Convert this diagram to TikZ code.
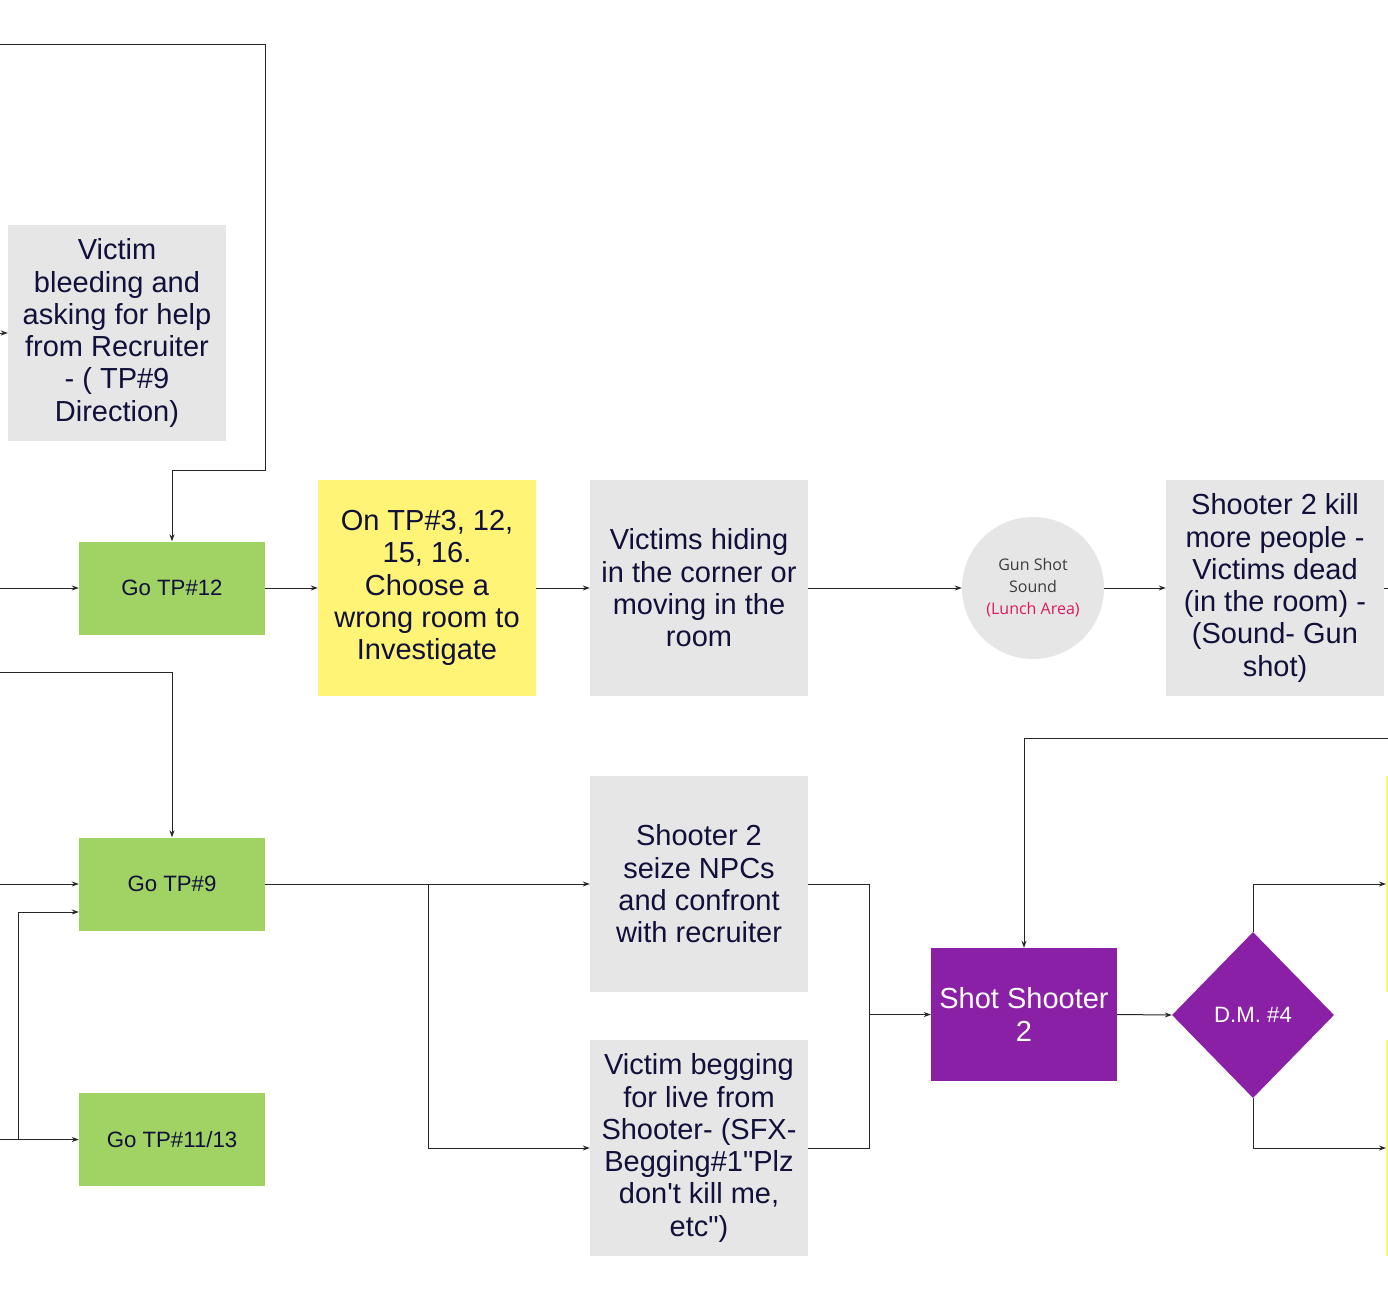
\documentclass[tikz,border=0pt]{standalone}
\usepackage{fontspec}
\setmainfont{Liberation Sans}
\newfontfamily\opensans{Open Sans}
\usetikzlibrary{arrows.meta,shapes.geometric}
\definecolor{boxgray}{HTML}{E6E6E6}
\definecolor{tpgreen}{HTML}{A1D264}
\definecolor{noteyellow}{HTML}{FFF475}
\definecolor{inkblue}{HTML}{10103A}
\definecolor{dmpurple}{HTML}{8A20A5}
\definecolor{lunchpink}{HTML}{D81B60}
\definecolor{soundgray}{HTML}{3C3C3C}
\tikzset{
  bigbox/.style={rectangle, fill=boxgray, minimum width=218pt, minimum height=216pt,
    inner sep=0pt, text=inkblue, align=center, font=\fontsize{29}{32.3}\selectfont},
  notebox/.style={bigbox, fill=noteyellow},
  tpbox/.style={rectangle, fill=tpgreen, minimum width=186pt, minimum height=93pt,
    inner sep=0pt, text=inkblue, align=center, font=\fontsize{22.2}{25}\selectfont},
  shotbox/.style={rectangle, fill=dmpurple, minimum width=186pt, minimum height=133pt,
    inner sep=0pt, text=white, align=center, font=\fontsize{29}{32.3}\selectfont},
  dmshape/.style={diamond, fill=dmpurple, minimum width=162pt, minimum height=166pt,
    shape aspect=0.976, inner sep=0pt, text=white, font=\fontsize{22.2}{25}\selectfont},
  soundcircle/.style={circle, fill=boxgray, minimum size=142pt, inner sep=0pt,
    text=soundgray, align=center, font=\opensans\fontsize{16}{22}\selectfont},
  wire/.style={draw=black!85, line width=1pt},
  conn/.style={wire, -{Stealth[length=7pt,width=5pt]}}
}
\begin{document}
\begin{tikzpicture}[x=1pt,y=-1pt]
\clip (0,0) rectangle (1388,1300);
\fill[white] (0,0) rectangle (1388,1300);

% nodes
\node[bigbox] (bleed) at (117,333) {Victim\\bleeding and\\asking for help\\from Recruiter\\- ( TP\#9\\Direction)};
\node[tpbox] (tp12) at (172,588) {Go TP\#12};
\node[notebox] (wrong) at (427,588) {On TP\#3, 12,\\15, 16.\\Choose a\\wrong room to\\Investigate};
\node[bigbox] (hide) at (699,588) {Victims hiding\\in the corner or\\moving in the\\room};
\node[soundcircle] (gun) at (1033,588) {Gun Shot\\Sound\\\textcolor{lunchpink}{(Lunch Area)}};
\node[bigbox] (kill) at (1275,588) {Shooter 2 kill\\more people -\\Victims dead\\(in the room) -\\(Sound- Gun\\shot)};
\node[tpbox] (tp9) at (172,884) {Go TP\#9};
\node[tpbox] (tp11) at (172,1139.5) {Go TP\#11/13};
\node[bigbox] (seize) at (699,884) {Shooter 2\\seize NPCs\\and confront\\with recruiter};
\node[bigbox] (beg) at (699,1148) {Victim begging\\for live from\\Shooter- (SFX-\\Begging\#1\textquotedbl Plz\\don\textquotesingle t kill me,\\etc\textquotedbl)};
\node[shotbox] (shot) at (1024,1014.5) {Shot Shooter\\2};
\node[dmshape] (dm) at (1253,1015) {D.M. \#4};
\node[notebox, anchor=west] (next1) at (1386,884) {};
\node[notebox, anchor=west] (next2) at (1386,1148) {};

% free ends
\coordinate (inBleed) at (-5,333);
\coordinate (inTop) at (-5,45);
\coordinate (turnTop) at (265,470);
\coordinate (in12) at (-5,588);
\coordinate (inMid) at (-5,672);
\coordinate (in9) at (-5,884);
\coordinate (in11) at (-5,1139.5);
\coordinate (split11) at (18,1139.5);
\coordinate (tp9low) at ([yshift=-28pt]tp9.west);
\coordinate (split9) at (428,884);
\coordinate (joinR) at (869,884);
\coordinate (joinMid) at (869,1014.5);
\coordinate (outKill) at (1395,588);
\coordinate (inShot) at (1395,738);

% connectors
\draw[conn] (inBleed) -- (bleed.west);
\draw[conn] (inTop) -| (turnTop) -| (tp12.north);
\draw[conn] (in12) -- (tp12.west);
\draw[conn] (tp12) -- (wrong);
\draw[conn] (wrong) -- (hide);
\draw[conn] (hide) -- (gun);
\draw[conn] (gun) -- (kill);
\draw[wire] (kill.east) -- (outKill);
\draw[conn] (inMid) -| (tp9.north);
\draw[conn] (in9) -- (tp9.west);
\draw[conn] (in11) -- (tp11.west);
\draw[conn] (split11) |- (tp9low);
\draw[conn] (tp9.east) -- (seize.west);
\draw[conn] (split9) |- (beg.west);
\draw[wire] (seize.east) -- (joinR) |- (beg.east);
\draw[conn] (joinMid) -- (shot.west);
\draw[conn] (inShot) -| (shot.north);
\draw[conn] (shot.east) -- (dm.west);
\draw[conn] (dm.north) |- (next1.west);
\draw[conn] (dm.south) |- (next2.west);
\end{tikzpicture}
\end{document}
